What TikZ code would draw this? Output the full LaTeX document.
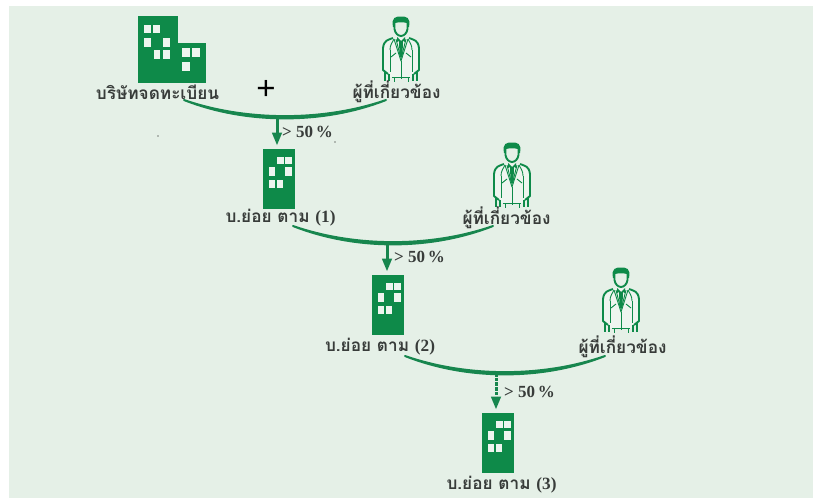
\documentclass[tikz,border=0pt]{standalone}
\usepackage{fontspec}
\usetikzlibrary{arrows.meta,calc}
\newfontfamily\thaifont[Script=Thai]{Loma}
\newfontfamily\latinfont{Liberation Serif}
\newfontfamily\plusfont{Liberation Sans}
\definecolor{bggreen}{HTML}{E5F0E7}
\definecolor{bldgreen}{HTML}{0E8A49}
\definecolor{linegreen}{HTML}{17864E}
\definecolor{inkgrey}{HTML}{383C3A}
\definecolor{winwhite}{HTML}{EEF5EF}
\tikzset{
  x=1pt,y=-1pt,
  win/.style={fill=winwhite,draw=none},
  tower/.style={rectangle,fill=bldgreen,draw=none,minimum width=32pt,minimum height=60pt,inner sep=0pt},
  blockbig/.style={rectangle,fill=bldgreen,draw=none,minimum width=40pt,minimum height=67pt,inner sep=0pt},
  blocksmall/.style={rectangle,fill=bldgreen,draw=none,minimum width=28pt,minimum height=40pt,inner sep=0pt},
  thailabel/.style={font=\thaifont\bfseries\fontsize{17.2}{19}\selectfont,text=inkgrey,inner sep=0pt},
  pctlabel/.style={font=\latinfont\bfseries\fontsize{17}{19}\selectfont,text=inkgrey,inner sep=0pt},
  plussign/.style={font=\plusfont\fontsize{33}{35}\selectfont,text=black,inner sep=0pt},
  bar/.style={fill=linegreen,draw=linegreen,line width=2pt,line join=round},
  arr/.style={draw=linegreen,line width=3pt,-{Triangle[length=13pt,width=9.5pt]},shorten >=3.5pt},
  speck/.style={fill=black,draw=none,circle,inner sep=0pt,minimum size=1.4pt},
  pline/.style={draw=bldgreen,line width=0.9pt,line join=round},
  pthick/.style={draw=bldgreen,line width=1.9pt,line join=round},
  person/.pic={
    % jacket body
    \fill[winwhite] (11,21) -- (3,24) -- (0.5,31) -- (0.5,52) -- (5,58) -- (8,60) -- (30,60) -- (33,58) -- (37.5,52) -- (37.5,31) -- (35,24) -- (27,21) -- cycle;
    % sleeves
    \draw[pthick] (11,21) .. controls (6,23) and (2,23) .. (1,31) -- (1,53) -- (6,57);
    \draw[pthick] (27,21) .. controls (32,23) and (36,23) .. (37,31) -- (37,53) -- (32,57);
    \draw[pline] (8,33) -- (8,55);
    \draw[pline] (30,33) -- (30,55);
    \draw[pline] (8,33) .. controls (8,28) and (10,26) .. (12,22);
    \draw[pline] (30,33) .. controls (30,28) and (28,26) .. (26,22);
    % lapels to the button
    \draw[pline] (12,22) -- (19,44) -- (26,22);
    \draw[pline] (19,44) -- (19,62);
    \draw[pline] (9,40) -- (14,36);
    \draw[pline] (29,40) -- (24,36);
    % shirt and tie
    \fill[bldgreen] (15,20) -- (19,24) -- (23,20) -- (23,25) -- (21,24) -- (20.5,38) -- (19,42) -- (17.5,38) -- (17,24) -- (15,25) -- cycle;
    \draw[pline] (14,22) -- (18,38);
    \draw[pline] (24,22) -- (20,38);
    % head
    \draw[pthick,fill=bggreen] (12.5,6) -- (12.5,12) .. controls (13,16) and (16,19) .. (19,19) .. controls (22,19) and (25,16) .. (25.5,12) -- (25.5,6);
    \fill[bldgreen] (11,10) .. controls (9,0) and (14,-0.5) .. (19,-0.5) .. controls (24,-0.5) and (29,0) .. (27,10) -- (25.5,10) -- (25,6) .. controls (21,5) and (17,5) .. (13,6) -- (12.5,10) -- cycle;
    % hands and trouser hems
    \draw[pthick] (3,55) -- (3,64);
    \draw[pthick] (7,57) -- (7,64);
    \draw[pthick] (35,55) -- (35,64);
    \draw[pthick] (31,57) -- (31,64);
    \draw[pline] (10,60) -- (28,60);
    \draw[pline] (12,60) -- (12,65);
    \draw[pline] (26,60) -- (26,65);
  }
}
\newcommand{\curvebar}[2]{%
  \filldraw[bar] (#1) .. controls +(62,24.5) and +(-62,24.5) .. (#2)
                      .. controls +(-62,21.5) and +(62,21.5) .. (#1) -- cycle;}
\newcommand{\towerwindows}[1]{%
  \begin{scope}[shift={(#1.north west)}]
    \fill[win] (13.5,8) rectangle (20.5,15);
    \fill[win] (22,8) rectangle (28.5,15);
    \fill[win] (6,18) rectangle (12,27);
    \fill[win] (22,18) rectangle (28.5,27);
    \fill[win] (6,31) rectangle (12,39);
    \fill[win] (13.5,31) rectangle (20,39);
  \end{scope}}
\begin{document}
\begin{tikzpicture}
\useasboundingbox (0,0) rectangle (814,498);
\fill[bggreen] (9,6) rectangle (813,497.5);

% first row
\node[blockbig,anchor=north west] (hqbig) at (138,16) {};
\node[blocksmall,anchor=north west] (hqsmall) at (178,43) {};
\begin{scope}[shift={(hqbig.north west)}]
  \fill[win] (5.7,9) rectangle (13,17);
  \fill[win] (15,9) rectangle (22.3,17);
  \fill[win] (5.7,22) rectangle (12.7,31);
  \fill[win] (25,22) rectangle (32,31);
  \fill[win] (15.7,34) rectangle (22.3,43);
  \fill[win] (25,34) rectangle (32,43);
\end{scope}
\begin{scope}[shift={(hqsmall.north west)}]
  \fill[win] (4.3,5) rectangle (12.3,14);
  \fill[win] (14,5) rectangle (21.7,14);
  \fill[win] (4.3,19.3) rectangle (12.3,28.3);
\end{scope}
\pic at (382,17) {person};
\node[thailabel] (hqlabel) at (157.5,92) {บริษัทจดทะเบียน};
\node[plussign] (plus) at (266,90) {+};
\node[thailabel] (rel1) at (396.5,92) {ผู้ที่เกี่ยวข้อง};
\coordinate (c1a) at (184,100);
\coordinate (c1b) at (386,100);
\coordinate (c1m) at (277,117);
\curvebar{c1a}{c1b}
\node[tower,anchor=north west] (sub1) at (263,149) {};
\towerwindows{sub1}
\draw[arr] (c1m) -- (c1m |- sub1.north);
\node[pctlabel,anchor=west] (pct1) at (282,132) {> 50\,\%};
\node[speck] (sp1) at (158,136) {};
\node[speck] (sp2) at (335,142) {};

% second row
\pic at (493,143) {person};
\node[thailabel] (sublabel1) at (280.5,218) {บ.ย่อย ตาม {\latinfont (1)}};
\node[thailabel] (rel2) at (506.5,218) {ผู้ที่เกี่ยวข้อง};
\coordinate (c2a) at (293,226);
\coordinate (c2b) at (493,226);
\coordinate (c2m) at (387,243);
\curvebar{c2a}{c2b}
\node[tower,anchor=north west] (sub2) at (372,275) {};
\towerwindows{sub2}
\draw[arr] (c2m) -- (c2m |- sub2.north);
\node[pctlabel,anchor=west] (pct2) at (394,257) {> 50\,\%};

% third row
\pic at (602,268) {person};
\node[thailabel] (sublabel2) at (380,347) {บ.ย่อย ตาม {\latinfont (2)}};
\node[thailabel] (rel3) at (622.5,347) {ผู้ที่เกี่ยวข้อง};
\coordinate (c3a) at (405,356);
\coordinate (c3b) at (605,356);
\coordinate (c3m) at (496,373);
\curvebar{c3a}{c3b}
\node[tower,anchor=north west] (sub3) at (482,413) {};
\towerwindows{sub3}
\draw[arr,dash pattern=on 3.5pt off 1.2pt] (c3m) -- (c3m |- sub3.north);
\node[pctlabel,anchor=west] (pct3) at (504,392) {> 50\,\%};
\node[thailabel] (sublabel3) at (501.5,485) {บ.ย่อย ตาม {\latinfont (3)}};
\end{tikzpicture}
\end{document}
